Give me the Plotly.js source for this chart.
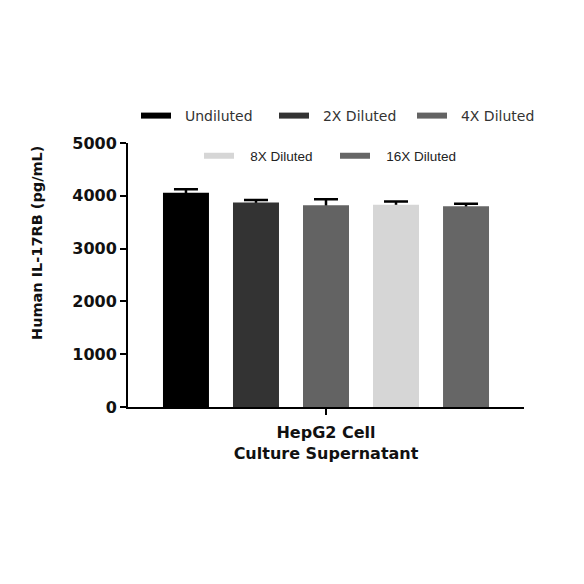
<!DOCTYPE html>
<html><head><meta charset="utf-8">
<script src="https://cdn.plot.ly/plotly-3.0.1.min.js"></script>
<style>html,body{margin:0;padding:0;background:#fff}#chart{width:584px;height:584px}</style>
</head><body><div id="chart"></div>
<script>
const category = ["HepG2 Cell<br>Culture Supernatant"];
const seriesNames = ["Undiluted", "2X Diluted", "4X Diluted", "8X Diluted", "16X Diluted"];
const means = [4060, 3875, 3820, 3830, 3800];
const errors = [65, 45, 115, 60, 50];
const colors = ["#000000", "#333333", "#636363", "#d6d6d6", "#666666"];
const legendGroup = ["legend", "legend", "legend", "legend2", "legend2"];
const yTicks = [0, 1000, 2000, 3000, 4000, 5000];
const yTitle = "Human IL-17RB (pg/mL)";

const traces = [];
// error-bar carriers (drawn first, lower half hidden under the bars)
seriesNames.forEach((name, i) => {
  traces.push({
    type: 'bar', name: name + ' error', x: category, y: [means[i]],
    offsetgroup: 'g' + i,
    marker: {color: 'rgba(0,0,0,0)', line: {width: 0}},
    error_y: {type: 'data', array: [errors[i]], symmetric: true,
              color: '#000', thickness: 2.5, width: 12},
    showlegend: false, hoverinfo: 'skip'
  });
});
seriesNames.forEach((name, i) => {
  traces.push({
    type: 'bar', name: name, x: category, y: [means[i]],
    offsetgroup: 'g' + i,
    marker: {color: colors[i], line: {width: 0}},
    showlegend: false, hoverinfo: 'y'
  });
});
seriesNames.forEach((name, i) => {
  const pad = legendGroup[i] === 'legend' ? '\u00a0\u00a0' : '\u00a0\u00a0\u00a0';
  traces.push({
    type: 'scatter', mode: 'lines', name: pad + name, x: [null], y: [null],
    line: {color: colors[i], width: 6},
    legend: legendGroup[i], showlegend: true
  });
});

const layout = {
  width: 584, height: 584,
  margin: {l: 128, r: 60, t: 143, b: 177, autoexpand: false},
  paper_bgcolor: '#fff', plot_bgcolor: '#fff',
  barmode: 'group', bargap: 0.116, bargroupgap: 0.343,
  font: {family: 'DejaVu Sans', color: '#000'},
  xaxis: {
    type: 'category', range: [-0.5, 0.5], showline: true, linecolor: '#000', linewidth: 2,
    ticks: 'outside', ticklen: 6, tickwidth: 2, tickcolor: '#000', showgrid: false, zeroline: false,
    ticklabelstandoff: 4,
    tickfont: {family: 'DejaVu Sans', size: 16, weight: 'bold', color: '#111'}
  },
  yaxis: {
    range: [0, 5000], tickvals: yTicks, ticktext: yTicks.map(String),
    showline: true, linecolor: '#000', linewidth: 2,
    ticks: 'outside', ticklen: 6, tickwidth: 2, tickcolor: '#000', showgrid: false, zeroline: false,
    tickfont: {family: 'DejaVu Sans', size: 16, weight: 'bold', color: '#111'}
  },
  annotations: [{
    text: yTitle, xref: 'paper', yref: 'paper',
    x: (37 - 128) / 396, y: (407 - 243) / 264, xanchor: 'center', yanchor: 'middle',
    textangle: -90, showarrow: false,
    font: {family: 'DejaVu Sans', size: 14.5, weight: 'bold', color: '#111'}
  }],
  legend: {orientation: 'h', x: (550 - 128) / 396, xanchor: 'right',
           y: (407 - 116) / 264, yanchor: 'middle',
           entrywidth: 93,
           font: {family: 'DejaVu Sans', size: 14, color: '#333'}, bgcolor: 'rgba(0,0,0,0)'},
  legend2: {orientation: 'h', x: (199 - 128) / 396, xanchor: 'left',
           y: (407 - 156) / 264, yanchor: 'middle',
           entrywidth: 91,
           font: {family: 'Liberation Sans', size: 13.5, color: '#222'}, bgcolor: 'rgba(0,0,0,0)'}
};
Plotly.newPlot('chart', traces, layout, {displayModeBar: false, staticPlot: true});
</script></body></html>
